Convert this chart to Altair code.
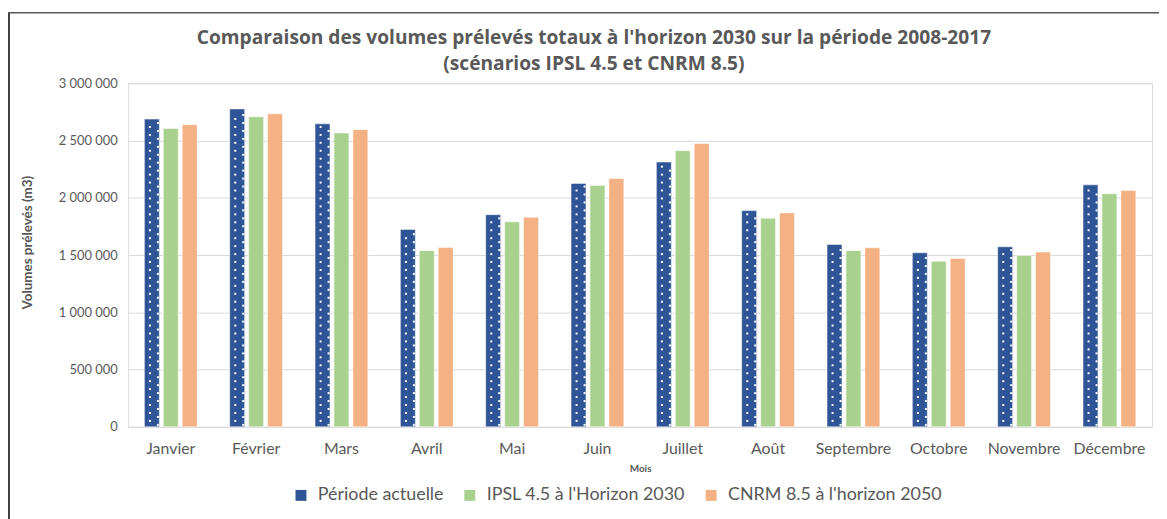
import altair as alt
import pandas as pd

months = ["Janvier", "Février", "Mars", "Avril", "Mai", "Juin", "Juillet",
          "Août", "Septembre", "Octobre", "Novembre", "Décembre"]
series = ["Période actuelle", "IPSL 4.5 à l'Horizon 2030", "CNRM 8.5 à l'horizon 2050"]
actuelle = [2687000, 2776000, 2646000, 1724000, 1853000, 2125000,
            2312000, 1888000, 1593000, 1520000, 1572000, 2113000]
ipsl = [2606000, 2707000, 2566000, 1538000, 1790000, 2107000,
        2411000, 1821000, 1538000, 1445000, 1497000, 2035000]
cnrm = [2638000, 2733000, 2595000, 1567000, 1830000, 2168000,
        2474000, 1868000, 1564000, 1471000, 1526000, 2064000]
y_ticks = [0, 500000, 1000000, 1500000, 2000000, 2500000, 3000000]
colors = ["#2F5597", "#A9D18E", "#F4B183"]
title_lines = ["Comparaison des volumes prélevés totaux à l'horizon 2030 sur la période 2008-2017",
               "(scénarios IPSL 4.5 et CNRM 8.5)"]

TXT = "#595959"
FONT = "Lato"
TFONT = "Open Sans"
W, H = 1031, 346
YMAX = 3000000

rows = []
for s, vals in zip(series, [actuelle, ipsl, cnrm]):
    for m, v in zip(months, vals):
        rows.append({"Mois": m, "Série": s, "Volume": v})
df = pd.DataFrame(rows)

# white dot pattern on the "Période actuelle" bars (two staggered columns)
step = 8 * YMAX / H
dots = []
for m, v in zip(months, actuelle):
    for col, start in (("a", 0.5), ("b", 0.0)):
        k = 0
        while True:
            yv = (k + start) * step + step * 0.25
            if yv > v - step * 0.3:
                break
            dots.append({"Mois": m, "col": col, "y": yv})
            k += 1
ddf = pd.DataFrame(dots)

x_enc = alt.X("Mois:N", sort=months,
              scale=alt.Scale(paddingInner=0.381, paddingOuter=0.19),
              axis=alt.Axis(title="Mois", labelAngle=0, ticks=False,
                            domainColor="#D9D9D9", labelPadding=14,
                            labelFontSize=16, labelFont=FONT, labelColor=TXT,
                            titleFont=FONT, titleFontSize=10, titleFontWeight="bold",
                            titleColor=TXT, titlePadding=7))
y_scale = alt.Scale(domain=[0, YMAX], nice=False)

bars = alt.Chart(df).mark_bar(stroke="white", strokeOpacity=0.5, strokeWidth=1).encode(
    x=x_enc,
    xOffset=alt.XOffset("Série:N", sort=series,
                        scale=alt.Scale(paddingInner=0.2105, paddingOuter=0)),
    y=alt.Y("Volume:Q", scale=y_scale,
            axis=alt.Axis(values=y_ticks, title="Volumes prélevés (m3)",
                          labelExpr="replace(format(datum.value, ','), regexp(',', 'g'), ' ')",
                          grid=True, gridColor="#D9D9D9", domain=False, ticks=False,
                          labelPadding=11, labelFontSize=13, labelFont=FONT,
                          labelColor=TXT, titleFont=FONT, titleFontSize=13.5,
                          titleFontWeight="bold", titleColor=TXT,
                          titleX=-94, titleY=160)),
    color=alt.Color("Série:N", sort=series,
                    scale=alt.Scale(domain=series, range=colors),
                    legend=alt.Legend(title=None, orient="none", direction="horizontal",
                                      legendX=165, legendY=406, symbolType="square",
                                      symbolSize=121, symbolStrokeWidth=0,
                                      labelFont=FONT, labelFontSize=18, labelColor=TXT,
                                      labelLimit=400, columnPadding=17, labelOffset=8)),
)

dots_a = alt.Chart(ddf).transform_filter(alt.datum.col == "a").mark_square(
    size=4, color="white", opacity=1, xOffset=-21).encode(
    x=alt.X("Mois:N", sort=months), y=alt.Y("y:Q", scale=y_scale))
dots_b = alt.Chart(ddf).transform_filter(alt.datum.col == "b").mark_square(
    size=4, color="white", opacity=1, xOffset=-13).encode(
    x=alt.X("Mois:N", sort=months), y=alt.Y("y:Q", scale=y_scale))

frame = pd.DataFrame([{"k": 1}])
left_border = alt.Chart(frame).mark_rule(color="#404040", strokeWidth=2).encode(
    x=alt.value(-120), y=alt.value(-71), y2=alt.value(440))
top_border = alt.Chart(frame).mark_rule(color="#595959", strokeWidth=1.5).encode(
    x=alt.value(-121), x2=alt.value(1040), y=alt.value(-71))

title1 = alt.Chart(frame).mark_text(
    text=title_lines[0], font=TFONT, fontSize=19.3, fontWeight="bold", color=TXT,
    align="center", baseline="middle").encode(x=alt.value(469), y=alt.value(-46))
title2 = alt.Chart(frame).mark_text(
    text=title_lines[1], font=TFONT, fontSize=19.3, fontWeight="bold", color=TXT,
    align="center", baseline="middle").encode(x=alt.value(469), y=alt.value(-19))

chart = alt.layer(bars, dots_a, dots_b, left_border, top_border, title1, title2).properties(
    width=W, height=H,
    autosize=alt.AutoSizeParams(type="none"),
    padding={"left": 121, "top": 74, "right": 7, "bottom": 91},
).configure_view(stroke=None).configure(background="white")

chart.save("out.html", embed_options={"renderer": "svg", "actions": False})
